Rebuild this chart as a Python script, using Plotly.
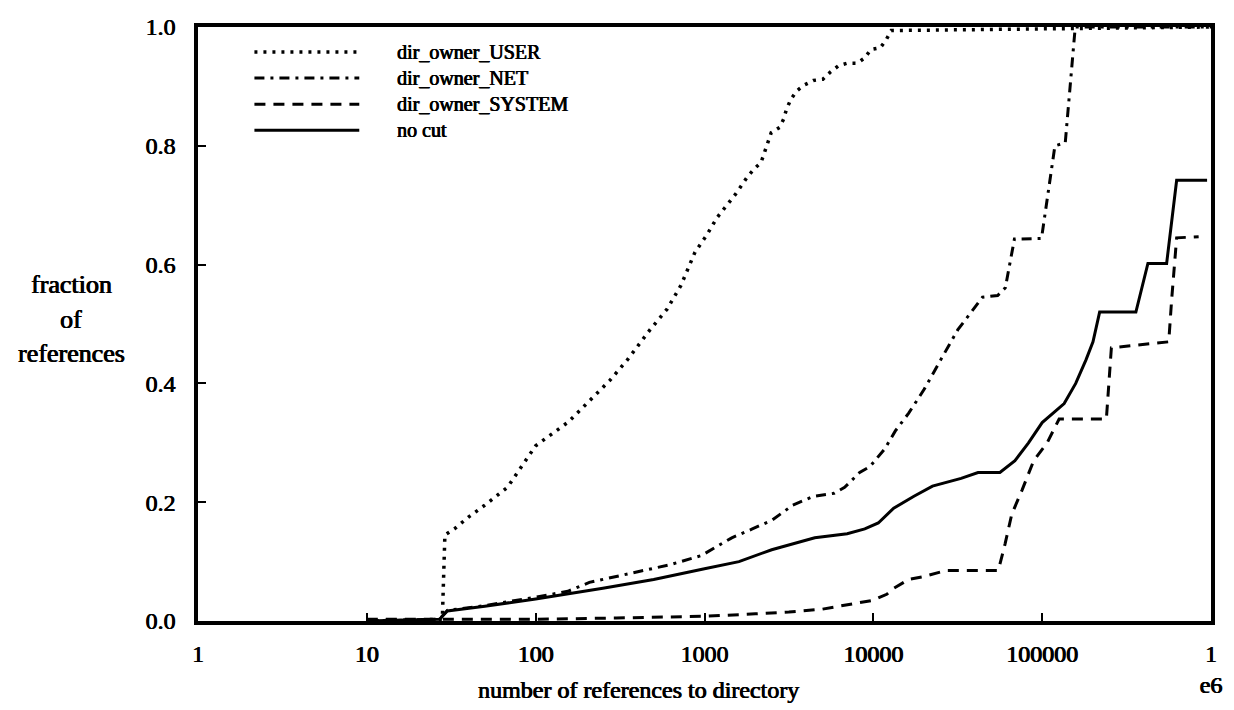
import plotly.graph_objects as go

# Cumulative fraction of references vs. number of references to a directory
user_x = [10, 28, 29, 33, 40, 50, 68, 100, 156, 200, 275, 350, 475, 600, 725, 879,
          1033, 1186, 1393, 1531, 1799, 1968, 2163, 2265, 2371, 2483, 2786, 2944,
          3055, 3243, 3508, 3882, 4416, 5023, 5559, 6237, 6998, 8035, 8892, 9661,
          10990, 11885, 12764, 1000000]
user_y = [0, 0.003, 0.145, 0.155, 0.175, 0.195, 0.225, 0.295, 0.335, 0.365, 0.405,
          0.44, 0.49, 0.525, 0.565, 0.621, 0.65, 0.679, 0.705, 0.719, 0.748, 0.761,
          0.772, 0.788, 0.805, 0.822, 0.831, 0.845, 0.861, 0.878, 0.892, 0.902, 0.91,
          0.912, 0.924, 0.935, 0.939, 0.939, 0.948, 0.962, 0.965, 0.978, 0.994, 1.0]

net_x = [10, 27, 30, 50, 100, 155, 208, 360, 630, 955, 1450, 1920, 2520, 3330, 4440,
         5860, 6760, 8300, 9550, 11700, 13500, 16200, 20000, 25100, 31600, 38000,
         44300, 54500, 60500, 68500, 99100, 119000, 137000, 157000, 1000000]
net_y = [0, 0.003, 0.018, 0.026, 0.04, 0.05, 0.065, 0.08, 0.095, 0.11, 0.14, 0.155,
         0.17, 0.195, 0.21, 0.215, 0.225, 0.25, 0.26, 0.29, 0.32, 0.35, 0.39, 0.44,
         0.49, 0.52, 0.545, 0.548, 0.561, 0.643, 0.644, 0.80, 0.805, 1.0, 1.0]

system_x = [10, 30, 100, 300, 1000, 2000, 3160, 5000, 7900, 10000, 12000, 13200,
            16200, 20000, 26900, 55000, 60300, 66100, 75900, 89100, 107000, 126000,
            240000, 257000, 562000, 585000, 626000, 845000]
system_y = [0.003, 0.003, 0.003, 0.005, 0.008, 0.012, 0.015, 0.02, 0.03, 0.035,
            0.045, 0.055, 0.07, 0.075, 0.085, 0.085, 0.13, 0.18, 0.22, 0.27, 0.30,
            0.34, 0.34, 0.46, 0.47, 0.542, 0.645, 0.647]

nocut_x = [10, 27, 28, 30, 50, 100, 250, 500, 1000, 1600, 2500, 4500, 7000, 8900,
           10700, 13200, 17400, 22400, 33100, 41700, 56200, 69000, 83000, 100000,
           135000, 158000, 182000, 200000, 219000, 359000, 423000, 546000, 626000,
           948000]
nocut_y = [0, 0.003, 0.008, 0.017, 0.025, 0.037, 0.055, 0.07, 0.088, 0.1, 0.12,
           0.14, 0.147, 0.155, 0.165, 0.19, 0.21, 0.227, 0.24, 0.25, 0.25, 0.27,
           0.30, 0.334, 0.366, 0.40, 0.44, 0.47, 0.52, 0.52, 0.602, 0.602, 0.742,
           0.742]

series_names = ["dir_owner_USER", "dir_owner_NET", "dir_owner_SYSTEM", "no cut"]
series_dash = ["3px,6px", "10px,6px,3px,6px", "11px,8px", "solid"]
series_width = [3.5, 3, 3, 3]

x_tickvals = [1, 10, 100, 1000, 10000, 100000, 1000000]
x_ticktext = ["1", "10", "100", "1000", "10000", "100000", "1<br>e6"]
y_tickvals = [0.0, 0.2, 0.4, 0.6, 0.8, 1.0]

FONT = "Liberation Serif"
INK = "#000000"
HEAVY = "0.6px 0 0 #000, -0.3px 0 0 #000"  # thickens the serif strokes slightly


def txt_font(size):
    return dict(family=FONT, size=size, color=INK, shadow=HEAVY)


fig = go.Figure()
for xs, ys, name, dash, w in zip(
    [user_x, net_x, system_x, nocut_x],
    [user_y, net_y, system_y, nocut_y],
    series_names, series_dash, series_width,
):
    fig.add_trace(go.Scatter(x=xs, y=ys, mode="lines", name=name,
                             line=dict(color=INK, width=w, dash=dash),
                             showlegend=False))

# Hand-drawn key in the upper-left corner of the plotting area
key_rows = [0.958, 0.914, 0.870, 0.826]
for name, dash, w, ky in zip(series_names, series_dash, series_width, key_rows):
    fig.add_shape(type="line", xref="paper", yref="paper",
                  x0=0.0557, x1=0.1592, y0=ky, y1=ky,
                  line=dict(color=INK, width=w, dash=dash))
    fig.add_annotation(xref="paper", yref="paper", x=0.194, y=ky, text=name,
                       showarrow=False, xanchor="left", yanchor="middle",
                       font=txt_font(20))

# y-axis caption written horizontally on three lines
for txt, py in zip(["fraction", "of", "references"], [285, 320, 355]):
    fig.add_annotation(xref="paper", yref="paper", x=(70 - 198) / 1024,
                       y=(623 - py) / 596, text=txt, showarrow=False,
                       xanchor="center", yanchor="middle",
                       font=txt_font(26))

fig.add_annotation(xref="paper", yref="paper", x=0.435, y=-0.117,
                   text="number of references to directory", showarrow=False,
                   xanchor="center", yanchor="middle",
                   font=txt_font(24))

fig.update_layout(
    width=1234, height=710,
    margin=dict(l=198, r=12, t=27, b=87),
    paper_bgcolor="white", plot_bgcolor="white",
    font=dict(family=FONT, color=INK),
)
fig.update_xaxes(type="log", range=[0, 6], tickvals=x_tickvals, ticktext=x_ticktext,
                 showgrid=False, zeroline=False, showline=True, linewidth=3.5,
                 linecolor=INK, mirror=True, ticks="inside", ticklen=8, tickwidth=2,
                 tickcolor=INK, tickfont=txt_font(24), ticklabelstandoff=8)
fig.update_yaxes(range=[0, 1], tickvals=y_tickvals, tickformat=".1f",
                 showgrid=False, zeroline=False, showline=True, linewidth=3.5,
                 linecolor=INK, mirror=True, ticks="inside", ticklen=8, tickwidth=2,
                 tickcolor=INK, tickfont=txt_font(24), ticklabelstandoff=14)

fig.write_html("out.html")
